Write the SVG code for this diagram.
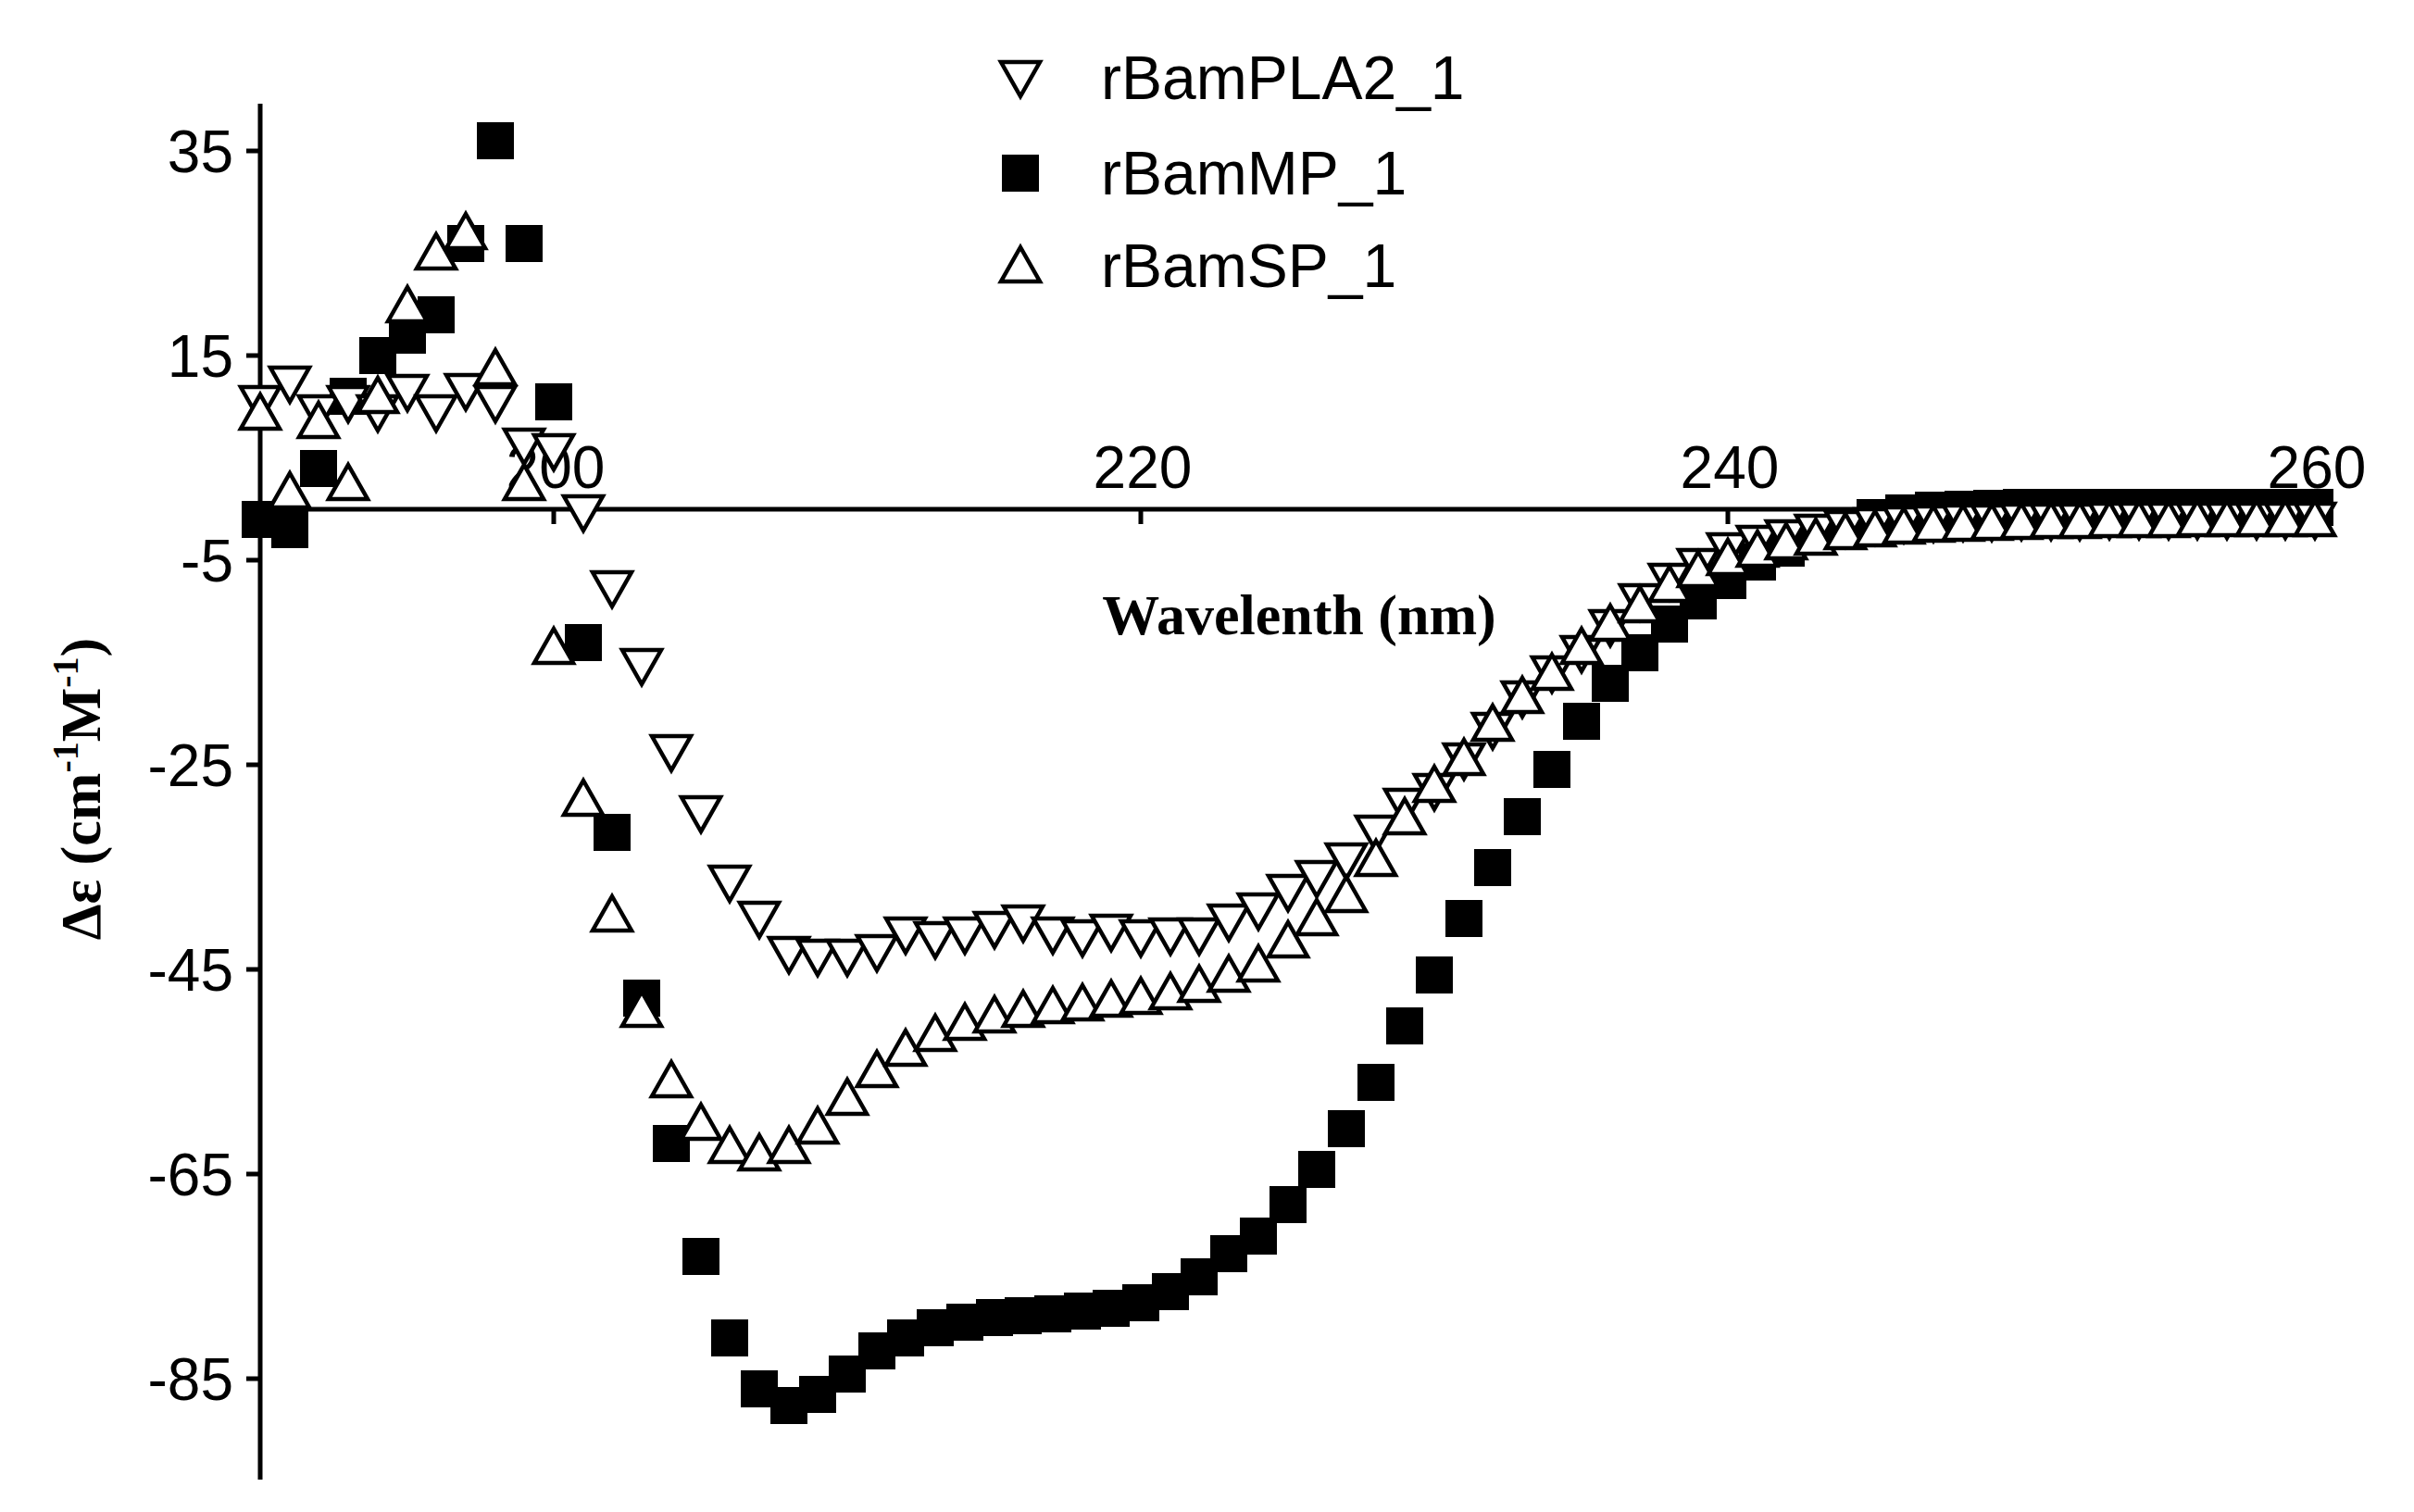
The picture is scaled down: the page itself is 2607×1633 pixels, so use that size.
<svg xmlns="http://www.w3.org/2000/svg" xmlns:xlink="http://www.w3.org/1999/xlink" width="2607" height="1633" viewBox="0 0 2607 1633">
<style>
.ax{stroke:#000;stroke-width:5;fill:none}
.tl{font-family:"Liberation Sans",Arial,sans-serif;font-size:64px;fill:#000}
.lg{font-family:"Liberation Sans",Arial,sans-serif;font-size:66px;fill:#000}
.ti{font-family:"Liberation Serif","Times New Roman",serif;font-weight:bold;font-size:62px;fill:#000}
.tri{fill:#fff;stroke:#000;stroke-width:4.5;stroke-linejoin:miter}
.sq{fill:#000}
</style>
<defs>
<path id="dn" class="tri" d="M-21,-17 L21,-17 L0,20 Z"/>
<path id="up" class="tri" d="M0,-20 L21,17 L-21,17 Z"/>
<rect id="sq" class="sq" x="-20" y="-20" width="40" height="40"/>
</defs>
<rect width="2607" height="1633" fill="#fff"/>
<g id="axes">
<line class="ax" x1="281" y1="112" x2="281" y2="1598"/>
<line class="ax" x1="279" y1="550" x2="2502" y2="550"/>
<path class="ax" d="M266,163H281M266,384H281M266,605H281M266,826H281M266,1047H281M266,1268H281M266,1489H281M598,550V566M1232,550V566M1866,550V566M2500,550V566"/>
<g class="tl" text-anchor="end">
<text x="252" y="186">35</text><text x="252" y="407">15</text><text x="252" y="628">-5</text><text x="252" y="849">-25</text><text x="252" y="1070">-45</text><text x="252" y="1291">-65</text><text x="252" y="1512">-85</text>
</g>
<g class="tl" text-anchor="middle">
<text x="600" y="527">200</text><text x="1234" y="527">220</text><text x="1868" y="527">240</text><text x="2502" y="527">260</text>
</g>
<text class="ti" x="1403" y="685" text-anchor="middle">Wavelenth (nm)</text>
<text class="ti" transform="translate(108,852) rotate(-90)" text-anchor="middle">Δε (cm<tspan font-size="40" dy="-24">-1</tspan><tspan dy="24">M</tspan><tspan font-size="40" dy="-24">-1</tspan><tspan dy="24">)</tspan></text>
</g>
<g id="legend">
<use xlink:href="#dn" x="1102" y="84"/><text class="lg" x="1189" y="107">rBamPLA2_1</text>
<use xlink:href="#sq" x="1102" y="187"/><text class="lg" x="1189" y="210">rBamMP_1</text>
<use xlink:href="#up" x="1102" y="287"/><text class="lg" x="1189" y="310">rBamSP_1</text>
</g>
<g id="series-MP">
<use xlink:href="#sq" x="281" y="561"/><use xlink:href="#sq" x="313" y="572"/><use xlink:href="#sq" x="344" y="506"/><use xlink:href="#sq" x="376" y="428"/><use xlink:href="#sq" x="408" y="384"/><use xlink:href="#sq" x="440" y="362"/><use xlink:href="#sq" x="471" y="340"/><use xlink:href="#sq" x="503" y="263"/><use xlink:href="#sq" x="535" y="152"/><use xlink:href="#sq" x="566" y="263"/>
<use xlink:href="#sq" x="598" y="434"/><use xlink:href="#sq" x="630" y="694"/><use xlink:href="#sq" x="661" y="899"/><use xlink:href="#sq" x="693" y="1078"/><use xlink:href="#sq" x="725" y="1235"/><use xlink:href="#sq" x="757" y="1357"/><use xlink:href="#sq" x="788" y="1445"/><use xlink:href="#sq" x="820" y="1500"/><use xlink:href="#sq" x="852" y="1518"/><use xlink:href="#sq" x="883" y="1506"/>
<use xlink:href="#sq" x="915" y="1484"/><use xlink:href="#sq" x="947" y="1459"/><use xlink:href="#sq" x="978" y="1445"/><use xlink:href="#sq" x="1010" y="1434"/><use xlink:href="#sq" x="1042" y="1428"/><use xlink:href="#sq" x="1074" y="1423"/><use xlink:href="#sq" x="1105" y="1421"/><use xlink:href="#sq" x="1137" y="1419"/><use xlink:href="#sq" x="1169" y="1416"/><use xlink:href="#sq" x="1200" y="1413"/>
<use xlink:href="#sq" x="1232" y="1407"/><use xlink:href="#sq" x="1264" y="1395"/><use xlink:href="#sq" x="1295" y="1379"/><use xlink:href="#sq" x="1327" y="1354"/><use xlink:href="#sq" x="1359" y="1335"/><use xlink:href="#sq" x="1391" y="1301"/><use xlink:href="#sq" x="1422" y="1263"/><use xlink:href="#sq" x="1454" y="1219"/><use xlink:href="#sq" x="1486" y="1169"/><use xlink:href="#sq" x="1517" y="1108"/>
<use xlink:href="#sq" x="1549" y="1053"/><use xlink:href="#sq" x="1581" y="992"/><use xlink:href="#sq" x="1612" y="937"/><use xlink:href="#sq" x="1644" y="882"/><use xlink:href="#sq" x="1676" y="831"/><use xlink:href="#sq" x="1708" y="779"/><use xlink:href="#sq" x="1739" y="738"/><use xlink:href="#sq" x="1771" y="705"/><use xlink:href="#sq" x="1803" y="674"/><use xlink:href="#sq" x="1834" y="649"/>
<use xlink:href="#sq" x="1866" y="627"/><use xlink:href="#sq" x="1898" y="607"/><use xlink:href="#sq" x="1929" y="592"/><use xlink:href="#sq" x="1961" y="579"/><use xlink:href="#sq" x="1993" y="568"/><use xlink:href="#sq" x="2025" y="559"/><use xlink:href="#sq" x="2056" y="554"/><use xlink:href="#sq" x="2088" y="551"/><use xlink:href="#sq" x="2120" y="550"/><use xlink:href="#sq" x="2151" y="549"/>
<use xlink:href="#sq" x="2183" y="548"/><use xlink:href="#sq" x="2215" y="548"/><use xlink:href="#sq" x="2246" y="548"/><use xlink:href="#sq" x="2278" y="548"/><use xlink:href="#sq" x="2310" y="548"/><use xlink:href="#sq" x="2342" y="548"/><use xlink:href="#sq" x="2373" y="548"/><use xlink:href="#sq" x="2405" y="548"/><use xlink:href="#sq" x="2437" y="548"/><use xlink:href="#sq" x="2468" y="548"/><use xlink:href="#sq" x="2500" y="548"/>
</g>
<g id="series-PLA2">
<use xlink:href="#dn" x="281" y="435"/><use xlink:href="#dn" x="313" y="414"/><use xlink:href="#dn" x="344" y="445"/><use xlink:href="#dn" x="376" y="435"/><use xlink:href="#dn" x="408" y="445"/><use xlink:href="#dn" x="440" y="423"/><use xlink:href="#dn" x="471" y="445"/><use xlink:href="#dn" x="503" y="422"/><use xlink:href="#dn" x="535" y="435"/><use xlink:href="#dn" x="566" y="481"/>
<use xlink:href="#dn" x="598" y="487"/><use xlink:href="#dn" x="630" y="553"/><use xlink:href="#dn" x="661" y="635"/><use xlink:href="#dn" x="693" y="719"/><use xlink:href="#dn" x="725" y="812"/><use xlink:href="#dn" x="757" y="878"/><use xlink:href="#dn" x="788" y="953"/><use xlink:href="#dn" x="820" y="992"/><use xlink:href="#dn" x="852" y="1030"/><use xlink:href="#dn" x="883" y="1033"/>
<use xlink:href="#dn" x="915" y="1033"/><use xlink:href="#dn" x="947" y="1028"/><use xlink:href="#dn" x="978" y="1009"/><use xlink:href="#dn" x="1010" y="1014"/><use xlink:href="#dn" x="1042" y="1009"/><use xlink:href="#dn" x="1074" y="1003"/><use xlink:href="#dn" x="1105" y="996"/><use xlink:href="#dn" x="1137" y="1009"/><use xlink:href="#dn" x="1169" y="1012"/><use xlink:href="#dn" x="1200" y="1006"/>
<use xlink:href="#dn" x="1232" y="1012"/><use xlink:href="#dn" x="1264" y="1010"/><use xlink:href="#dn" x="1295" y="1010"/><use xlink:href="#dn" x="1327" y="995"/><use xlink:href="#dn" x="1359" y="983"/><use xlink:href="#dn" x="1391" y="963"/><use xlink:href="#dn" x="1422" y="948"/><use xlink:href="#dn" x="1454" y="929"/><use xlink:href="#dn" x="1486" y="899"/><use xlink:href="#dn" x="1517" y="870"/>
<use xlink:href="#dn" x="1549" y="854"/><use xlink:href="#dn" x="1581" y="821"/><use xlink:href="#dn" x="1612" y="788"/><use xlink:href="#dn" x="1644" y="754"/><use xlink:href="#dn" x="1676" y="727"/><use xlink:href="#dn" x="1708" y="705"/><use xlink:href="#dn" x="1739" y="677"/><use xlink:href="#dn" x="1771" y="649"/><use xlink:href="#dn" x="1803" y="627"/><use xlink:href="#dn" x="1834" y="611"/>
<use xlink:href="#dn" x="1866" y="594"/><use xlink:href="#dn" x="1898" y="586"/><use xlink:href="#dn" x="1929" y="580"/><use xlink:href="#dn" x="1961" y="574"/><use xlink:href="#dn" x="1993" y="570"/><use xlink:href="#dn" x="2025" y="567"/><use xlink:href="#dn" x="2056" y="565"/><use xlink:href="#dn" x="2088" y="564"/><use xlink:href="#dn" x="2120" y="563"/><use xlink:href="#dn" x="2151" y="563"/>
<use xlink:href="#dn" x="2183" y="562"/><use xlink:href="#dn" x="2215" y="562"/><use xlink:href="#dn" x="2246" y="562"/><use xlink:href="#dn" x="2278" y="561"/><use xlink:href="#dn" x="2310" y="561"/><use xlink:href="#dn" x="2342" y="561"/><use xlink:href="#dn" x="2373" y="561"/><use xlink:href="#dn" x="2405" y="561"/><use xlink:href="#dn" x="2437" y="561"/><use xlink:href="#dn" x="2468" y="561"/><use xlink:href="#dn" x="2500" y="561"/>
</g>
<g id="series-SP">
<use xlink:href="#up" x="281" y="446"/><use xlink:href="#up" x="313" y="531"/><use xlink:href="#up" x="344" y="455"/><use xlink:href="#up" x="376" y="522"/><use xlink:href="#up" x="408" y="428"/><use xlink:href="#up" x="440" y="330"/><use xlink:href="#up" x="471" y="273"/><use xlink:href="#up" x="503" y="251"/><use xlink:href="#up" x="535" y="398"/><use xlink:href="#up" x="566" y="522"/>
<use xlink:href="#up" x="598" y="699"/><use xlink:href="#up" x="630" y="863"/><use xlink:href="#up" x="661" y="988"/><use xlink:href="#up" x="693" y="1091"/><use xlink:href="#up" x="725" y="1167"/><use xlink:href="#up" x="757" y="1213"/><use xlink:href="#up" x="788" y="1238"/><use xlink:href="#up" x="820" y="1246"/><use xlink:href="#up" x="852" y="1238"/><use xlink:href="#up" x="883" y="1217"/>
<use xlink:href="#up" x="915" y="1186"/><use xlink:href="#up" x="947" y="1156"/><use xlink:href="#up" x="978" y="1133"/><use xlink:href="#up" x="1010" y="1117"/><use xlink:href="#up" x="1042" y="1105"/><use xlink:href="#up" x="1074" y="1097"/><use xlink:href="#up" x="1105" y="1091"/><use xlink:href="#up" x="1137" y="1087"/><use xlink:href="#up" x="1169" y="1084"/><use xlink:href="#up" x="1200" y="1080"/>
<use xlink:href="#up" x="1232" y="1077"/><use xlink:href="#up" x="1264" y="1072"/><use xlink:href="#up" x="1295" y="1064"/><use xlink:href="#up" x="1327" y="1053"/><use xlink:href="#up" x="1359" y="1042"/><use xlink:href="#up" x="1391" y="1016"/><use xlink:href="#up" x="1422" y="992"/><use xlink:href="#up" x="1454" y="967"/><use xlink:href="#up" x="1486" y="928"/><use xlink:href="#up" x="1517" y="883"/>
<use xlink:href="#up" x="1549" y="848"/><use xlink:href="#up" x="1581" y="819"/><use xlink:href="#up" x="1612" y="782"/><use xlink:href="#up" x="1644" y="752"/><use xlink:href="#up" x="1676" y="727"/><use xlink:href="#up" x="1708" y="699"/><use xlink:href="#up" x="1739" y="674"/><use xlink:href="#up" x="1771" y="654"/><use xlink:href="#up" x="1803" y="632"/><use xlink:href="#up" x="1834" y="616"/>
<use xlink:href="#up" x="1866" y="603"/><use xlink:href="#up" x="1898" y="594"/><use xlink:href="#up" x="1929" y="586"/><use xlink:href="#up" x="1961" y="581"/><use xlink:href="#up" x="1993" y="575"/><use xlink:href="#up" x="2025" y="572"/><use xlink:href="#up" x="2056" y="569"/><use xlink:href="#up" x="2088" y="567"/><use xlink:href="#up" x="2120" y="566"/><use xlink:href="#up" x="2151" y="565"/>
<use xlink:href="#up" x="2183" y="564"/><use xlink:href="#up" x="2215" y="563"/><use xlink:href="#up" x="2246" y="563"/><use xlink:href="#up" x="2278" y="562"/><use xlink:href="#up" x="2310" y="562"/><use xlink:href="#up" x="2342" y="562"/><use xlink:href="#up" x="2373" y="561"/><use xlink:href="#up" x="2405" y="561"/><use xlink:href="#up" x="2437" y="561"/><use xlink:href="#up" x="2468" y="561"/><use xlink:href="#up" x="2500" y="561"/>
</g>
</svg>
